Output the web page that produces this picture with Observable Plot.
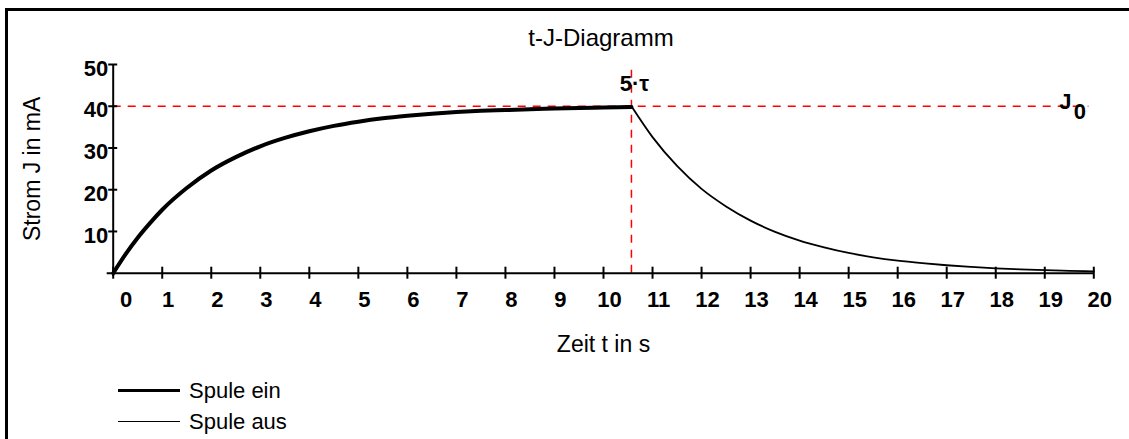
<!DOCTYPE html>
<html>
<head>
<meta charset="utf-8">
<script src="https://cdn.jsdelivr.net/npm/d3@7"></script>
<script src="https://cdn.jsdelivr.net/npm/@observablehq/plot@0.6"></script>
<style>
  html, body { margin: 0; padding: 0; background: #fff; overflow: hidden; width: 1129px; height: 439px; }
  body { position: relative; font-family: "Liberation Sans", Arial, sans-serif; }
  #frame { position: absolute; left: 5px; top: 8px; width: 1200px; height: 600px; border-top: 3px solid #000; border-left: 3px solid #000; }
  #title { position: absolute; top: 25px; left: 601px; transform: translateX(-50%); font-size: 24px; line-height: 26px; white-space: nowrap; color: #000; }
  #chart { position: absolute; left: 0; top: 52px; }
  #legend { position: absolute; left: 118px; top: 375px; }
  .row { display: flex; align-items: center; height: 31px; }
  .sw { width: 62px; background: #000; margin-right: 9px; }
  .lab { font-size: 22px; line-height: 26px; color: #000; }
</style>
</head>
<body>
<div id="frame"></div>
<div id="title">t-J-Diagramm</div>
<div id="chart"></div>
<div id="legend"></div>
<script>
// ---- data ----
const xTicks = [0,1,2,3,4,5,6,7,8,9,10,11,12,13,14,15,16,17,18,19,20];
const yTicks = [10,20,30,40,50];
const J0 = 40;            // mA, final current
const tau5 = 10.57;       // s, time 5·τ
const lineTopY = 50;      // top of the vertical marker
const refLineEnd = 19.9;  // end of red J0 line
const j0LabelX = 19.42;

const riseT = [0,0.25,0.5,0.75,1,1.5,2,2.5,3,3.5,4,4.5,5,5.5,6,6.5,7,7.5,8,8.5,9,9.5,10,10.57];
const riseJ = [0,4.5,8.5,12.0,15.2,20.4,24.6,27.8,30.4,32.4,34.0,35.3,36.3,37.1,37.7,38.2,38.6,38.9,39.1,39.3,39.45,39.6,39.7,39.8];
const fallT = [10.57,11,11.5,12,12.5,13,13.5,14,14.5,15,15.5,16,16.5,17,17.5,18,18.5,19,19.5,20];
const fallJ = [40,32.6,25.7,20.2,16.0,12.6,9.9,7.8,6.2,4.85,3.8,3.0,2.4,1.9,1.5,1.16,0.92,0.72,0.57,0.45];

const legendItems = ["Spule ein", "Spule aus"];
const legendWidths = [3.5, 1.5];

const rise = riseT.map((t, i) => ({t, j: riseJ[i]}));
const fall = fallT.map((t, i) => ({t, j: fallJ[i]}));

const font = "'Liberation Sans', Arial, sans-serif";

const chart = Plot.plot({
  width: 1129,
  height: 316,
  marginLeft: 112.7,
  marginRight: 35.7,
  marginTop: 12,
  marginBottom: 95.3,
  style: {fontFamily: font, fontSize: "22px", background: "transparent", color: "#000", overflow: "visible"},
  x: {domain: [0, 20], nice: false},
  y: {domain: [0, 50], nice: false},
  marks: [
    // reference lines
    Plot.ruleY([J0], {x1: 0, x2: refLineEnd, stroke: "#ff0000", strokeWidth: 1.5, strokeDasharray: "8,7"}),
    Plot.ruleX([tau5], {y1: 0, y2: lineTopY, stroke: "#ff0000", strokeWidth: 1.5, strokeDasharray: "8,7"}),
    // axis lines
    Plot.ruleY([0], {insetLeft: -6, stroke: "#000", strokeWidth: 2}),
    Plot.ruleX([0], {insetBottom: -3, stroke: "#000", strokeWidth: 2}),
    // crossing ticks
    Plot.axisX({ticks: xTicks, tickSize: 12, dy: -6, tickFormat: () => "", label: null, strokeWidth: 2}),
    Plot.axisY({ticks: yTicks, tickSize: 9, dx: 4.5, tickFormat: () => "", label: null, strokeWidth: 2}),
    // tick labels
    Plot.axisX({ticks: xTicks.filter(d => d !== 0), tickSize: 0, tickPadding: 18, dx: 6, fontWeight: "bold", fontSize: 22, label: null}),
    Plot.axisX({ticks: [0], tickSize: 0, tickPadding: 18, dx: 13, fontWeight: "bold", fontSize: 22, label: null}),
    Plot.axisY({ticks: yTicks, tickSize: 0, tickPadding: 5, dy: 4, fontWeight: "bold", fontSize: 22, label: null}),
    // axis titles
    Plot.text(["Zeit t in s"], {frameAnchor: "bottom", dy: 79, fontSize: 23, text: d => d}),
    Plot.text(["Strom J in mA"], {frameAnchor: "left", textAnchor: "middle", dx: -80.7, rotate: -90, fontSize: 23, text: d => d}),
    // curves
    Plot.line(rise, {x: "t", y: "j", stroke: "#000", strokeWidth: 4, curve: "monotone-x"}),
    Plot.line(fall, {x: "t", y: "j", stroke: "#000", strokeWidth: 1.8, curve: "monotone-x"}),
    // annotations
    Plot.text([{x: tau5, y: J0}], {x: "x", y: "y", text: () => "5\u00b7\u03c4", dx: 3, dy: -22, fontWeight: "bold", fontSize: 22}),
    Plot.text([{x: j0LabelX, y: J0}], {x: "x", y: "y", text: () => "J", dy: -4, fontWeight: "bold", fontSize: 22}),
    Plot.text([{x: j0LabelX, y: J0}], {x: "x", y: "y", text: () => "0", dx: 14.5, dy: 6, fontWeight: "bold", fontSize: 22})
  ]
});
document.getElementById("chart").appendChild(chart);

const legend = document.getElementById("legend");
legendItems.forEach((name, i) => {
  const row = document.createElement("div");
  row.className = "row";
  const sw = document.createElement("div");
  sw.className = "sw";
  sw.style.height = legendWidths[i] + "px";
  const lab = document.createElement("span");
  lab.className = "lab";
  lab.textContent = name;
  row.appendChild(sw);
  row.appendChild(lab);
  legend.appendChild(row);
});
</script>
</body>
</html>
